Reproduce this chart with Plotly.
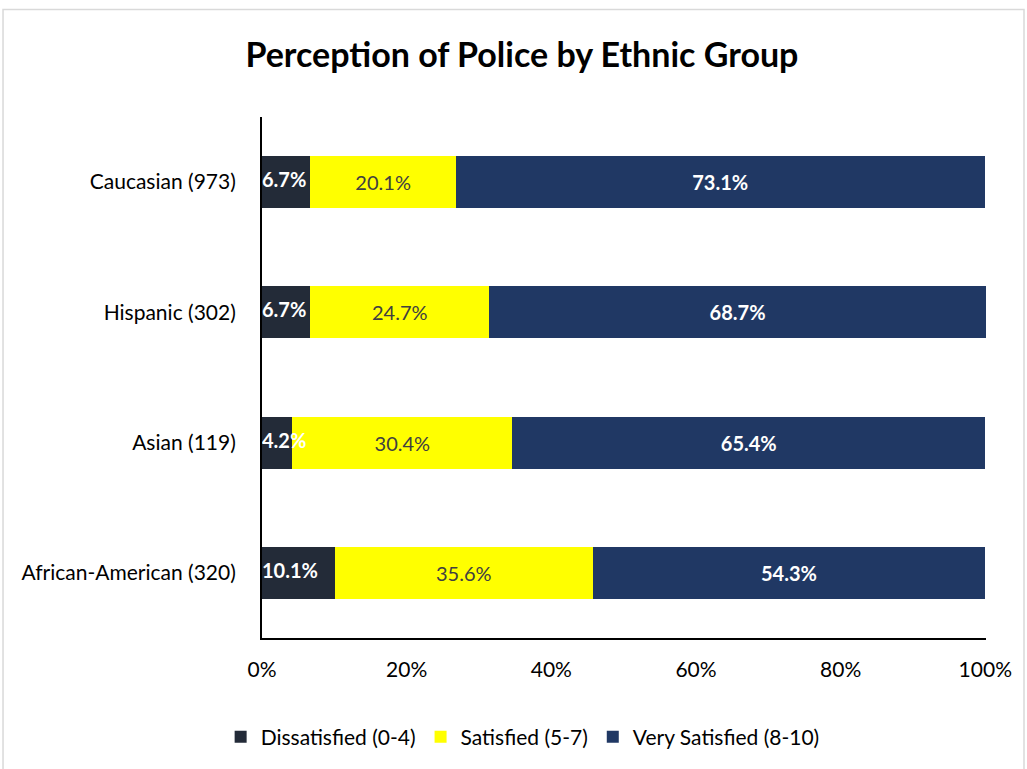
import plotly.graph_objects as go

groups = ["Caucasian (973)", "Hispanic (302)", "Asian (119)", "African-American (320)"]
dissatisfied = [6.7, 6.7, 4.2, 10.1]
satisfied = [20.1, 24.7, 30.4, 35.6]
very_satisfied = [73.1, 68.7, 65.4, 54.3]
x_ticks = [0, 20, 40, 60, 80, 100]
x_tick_labels = ["0%", "20%", "40%", "60%", "80%", "100%"]

FONT = "Lato"
LBL = 20
DARK, YELLOW, NAVY = "#232b38", "#ffff00", "#203864"


def pct(vals):
    return [f"{v:.1f}%" for v in vals]


fig = go.Figure()
# Dissatisfied segment: labels drawn later on top so narrow bars stay readable
fig.add_trace(go.Bar(y=groups, x=dissatisfied, name="Dissatisfied (0-4)", orientation="h",
                     marker=dict(color=DARK, line=dict(width=0))))
fig.add_trace(go.Bar(y=groups, x=satisfied, name="Satisfied (5-7)", orientation="h",
                     marker=dict(color=YELLOW, line=dict(width=0)),
                     text=pct(satisfied), textposition="inside", insidetextanchor="middle",
                     textangle=0, constraintext="none",
                     textfont=dict(color="#404040", size=LBL, family=FONT)))
fig.add_trace(go.Bar(y=groups, x=very_satisfied, name="Very Satisfied (8-10)", orientation="h",
                     marker=dict(color=NAVY, line=dict(width=0)),
                     text=pct(very_satisfied), textposition="inside", insidetextanchor="middle",
                     textangle=0, constraintext="none",
                     textfont=dict(color="white", size=LBL, family=FONT, weight="bold")))
fig.add_trace(go.Scatter(y=groups, x=[0] * len(groups), mode="text", text=pct(dissatisfied),
                         textposition="middle right", showlegend=False, cliponaxis=False,
                         textfont=dict(color="white", size=LBL, family=FONT, weight="bold"),
                         hoverinfo="skip"))

fig.update_layout(
    barmode="stack",
    bargap=0.6,
    width=1027, height=769,
    margin=dict(l=262, r=41, t=117, b=129),
    paper_bgcolor="white", plot_bgcolor="white",
    font=dict(family=FONT, size=21, color="#000000"),
    uniformtext=dict(minsize=LBL, mode="show"),
    title=dict(text="<b>Perception of Police by Ethnic Group</b>", x=0.359, xref="paper",
               xanchor="center", y=0.928, yanchor="middle",
               font=dict(family=FONT, size=34, color="black")),
    legend=dict(orientation="h", x=0.36, xanchor="center", y=-0.19, yanchor="middle",
                font=dict(family=FONT, size=21, color="black"), traceorder="normal",
                itemwidth=30),
    showlegend=True,
)
# rounded shares can total 100.1%, so the range leaves that sliver visible
fig.update_xaxes(range=[0, 100.1], tickvals=x_ticks, ticktext=x_tick_labels,
                 showgrid=False, zeroline=False, showline=True, linecolor="black",
                 linewidth=2, ticks="", ticklabelstandoff=12,
                 tickfont=dict(family=FONT, size=21, color="black"))
fig.update_yaxes(categoryorder="array", categoryarray=groups, autorange="reversed",
                 showgrid=False, zeroline=False, showline=True, linecolor="black",
                 linewidth=2, ticks="", ticklabelstandoff=20,
                 tickfont=dict(family=FONT, size=21, color="black"))

# outer chart frame
fig.add_shape(type="rect", xref="paper", yref="paper",
              x0=-0.3577, x1=1.0525, y0=-0.4, y1=1.2065,
              line=dict(color="#d9d9d9", width=1.5), fillcolor="rgba(0,0,0,0)", layer="below")

fig.write_html("out.html")
